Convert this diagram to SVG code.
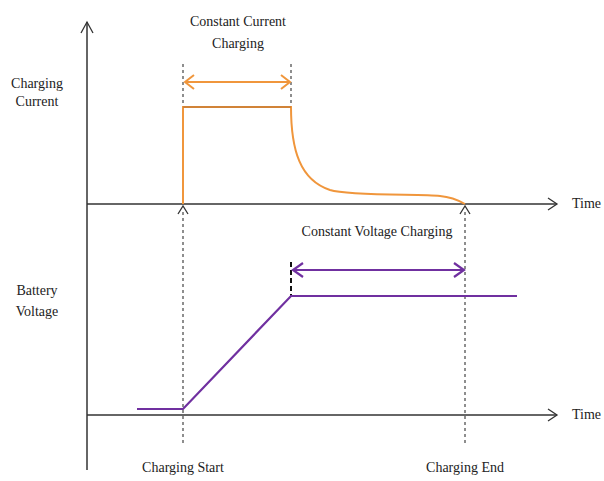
<svg xmlns="http://www.w3.org/2000/svg" width="604" height="481" viewBox="0 0 604 481">
<style>
.ax{stroke:#333;stroke-width:1.5;fill:none}
.dash{stroke:#444;stroke-width:1.2;stroke-dasharray:3,3;fill:none}
.or{stroke:#f0963c;stroke-width:2;fill:none}
.pu{stroke:#7030a0;stroke-width:2.2;fill:none}
.t{font-family:'Liberation Serif','DejaVu Serif','Times New Roman',serif;font-size:14px;fill:#222}
.head{fill:none;stroke:#333;stroke-width:1.3}
</style>
<rect width="604" height="481" fill="#fff"/>
<g id="connectors">
<line class="ax" x1="87" y1="22" x2="87" y2="470"/>
<polyline class="head" points="81,33 87,22 93,33"/>
<line class="ax" x1="87" y1="204" x2="557" y2="204"/>
<polyline class="head" points="548,198 557,204 548,210"/>
<line class="ax" x1="87" y1="415" x2="557" y2="415"/>
<polyline class="head" points="548,409 557,415 548,421"/>
<line class="dash" x1="183" y1="64" x2="183" y2="107"/>
<line class="dash" x1="183" y1="212" x2="183" y2="445"/>
<polyline class="head" points="178,214 183,206 188,214"/>
<line class="dash" x1="291" y1="64" x2="291" y2="107"/>
<line class="dash" x1="465" y1="212" x2="465" y2="445"/>
<polyline class="head" points="460,214 465,206 470,214"/>
<line x1="291" y1="262" x2="291" y2="296" stroke="#111" stroke-width="2" stroke-dasharray="5,3"/>
<line class="or" x1="185" y1="82" x2="290" y2="82"/>
<polyline class="or" points="194,75 185,82 194,89"/>
<polyline class="or" points="281,75 290,82 281,89"/>
<line class="pu" x1="293" y1="270" x2="464" y2="270"/>
<polyline class="pu" points="303,263 293,270 303,277"/>
<polyline class="pu" points="454,263 464,270 454,277"/>
</g>
<g id="current-curve">
<path class="or" d="M183,204 V107 H291 C291,150 300,180 330,190 C350,196 420,194 440,196 C452,197 458,200 465,204"/>
<line x1="183" y1="107" x2="291" y2="107" stroke="#8a5a30" stroke-width="1" opacity="0.6"/>
</g>
<g id="voltage-curve">
<polyline class="pu" points="137,409 183,409 291,296 517,296"/>
</g>
<g id="labels">
<text class="t" x="37" y="88" text-anchor="middle">Charging</text>
<text class="t" x="37" y="106" text-anchor="middle">Current</text>
<text class="t" x="37" y="295" text-anchor="middle">Battery</text>
<text class="t" x="37" y="316" text-anchor="middle">Voltage</text>
<text class="t" x="238" y="26" text-anchor="middle">Constant Current</text>
<text class="t" x="238" y="48" text-anchor="middle">Charging</text>
<text class="t" x="377" y="236" text-anchor="middle">Constant Voltage Charging</text>
<text class="t" x="572" y="208">Time</text>
<text class="t" x="572" y="419">Time</text>
<text class="t" x="183" y="472" text-anchor="middle">Charging Start</text>
<text class="t" x="465" y="472" text-anchor="middle">Charging End</text>
</g>
</svg>
